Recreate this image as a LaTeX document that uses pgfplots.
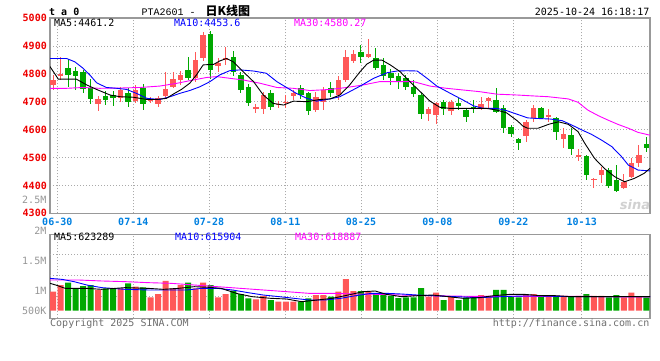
\documentclass[border=0pt]{standalone}
\usepackage{fontspec}
\usepackage{pgfplots}
\usepackage{pgfplotstable}
\pgfplotsset{compat=1.18}
\setmainfont{DejaVu Sans Mono}
\newfontfamily\cour{Liberation Mono}
\newfontfamily\cjk{Noto Sans CJK SC}
\newfontfamily\sinafont{DejaVu Sans}
\definecolor{kred}{RGB}{255,88,88}
\definecolor{kgreen}{RGB}{0,168,0}
\definecolor{tred}{RGB}{238,0,0}
\definecolor{tblue}{RGB}{0,128,224}
\definecolor{framec}{RGB}{153,153,153}
\definecolor{gridc}{RGB}{170,170,170}
\definecolor{ma10}{RGB}{0,0,255}
\definecolor{ma30}{RGB}{255,0,255}
\definecolor{volgray}{RGB}{150,150,150}
\definecolor{foot}{RGB}{110,110,110}

% up (red) candles: index, open, high, low, close, volume (M, drawn scale)
\pgfplotstableread{
i o h l c v
0 4760 4796 4742 4778 0.989
1 4792 4862 4778 4799 1.100
6 4693 4722 4668 4711 1.017
9 4712 4754 4698 4742 1.044
11 4704 4760 4695 4742 1.072
13 4703 4716 4695 4709 0.894
14 4690 4722 4682 4714 0.950
15 4720 4808 4708 4745 1.167
16 4754 4808 4748 4781 1.044
17 4778 4810 4760 4796 1.100
19 4784 4879 4772 4849 1.044
20 4858 4950 4845 4939 1.139
22 4828 4855 4808 4838 0.894
23 4848 4897 4832 4855 0.950
27 4673 4692 4658 4682 0.861
28 4674 4736 4655 4724 0.917
30 4688 4702 4679 4692 0.822
31 4696 4724 4676 4700 0.822
32 4722 4742 4706 4730 0.822
35 4670 4736 4662 4718 0.933
36 4700 4754 4670 4742 0.933
38 4724 4793 4706 4778 0.989
39 4778 4885 4772 4861 1.200
40 4846 4885 4838 4870 1.000
42 4861 4925 4855 4870 1.000
50 4656 4682 4631 4673 0.906
51 4652 4700 4619 4694 0.972
53 4668 4706 4652 4700 0.906
57 4674 4718 4670 4691 0.933
58 4704 4718 4676 4715 0.917
63 4577 4634 4557 4628 0.933
64 4643 4688 4628 4676 0.950
66 4645 4674 4628 4652 0.917
68 4566 4604 4533 4584 0.917
70 4503 4530 4487 4509 0.917
72 4420 4425 4390 4423 0.917
73 4437 4467 4407 4455 0.917
76 4389 4440 4387 4413 0.894
77 4431 4497 4425 4479 0.972
78 4479 4545 4467 4509 0.906
}\upk

% down (green) candles
\pgfplotstableread{
i o h l c v
2 4822 4852 4754 4796 1.139
3 4810 4825 4742 4793 1.044
4 4806 4812 4730 4744 1.083
5 4748 4780 4690 4708 1.100
7 4722 4738 4688 4706 1.044
8 4723 4739 4686 4714 1.044
10 4730 4750 4680 4700 1.128
12 4748 4762 4672 4692 1.061
18 4814 4859 4778 4784 1.139
21 4942 4954 4781 4815 1.100
24 4861 4883 4793 4808 1.005
25 4796 4808 4730 4742 0.950
26 4754 4762 4686 4694 0.877
29 4730 4742 4670 4682 0.850
33 4748 4760 4710 4724 0.822
34 4730 4736 4652 4667 0.878
37 4748 4770 4718 4730 0.906
41 4877 4903 4838 4861 1.000
43 4855 4894 4814 4822 0.950
44 4832 4855 4778 4793 0.950
45 4804 4816 4760 4784 0.917
46 4792 4802 4746 4774 0.883
47 4786 4796 4742 4754 0.894
48 4754 4778 4718 4728 0.894
49 4724 4730 4638 4655 1.050
52 4700 4706 4652 4674 0.850
54 4694 4712 4670 4686 0.850
55 4670 4676 4628 4646 0.889
56 4682 4706 4658 4673 0.883
59 4706 4748 4658 4664 1.017
60 4676 4688 4589 4605 1.017
61 4611 4617 4572 4584 0.906
62 4565 4571 4527 4553 0.894
65 4679 4682 4638 4643 0.906
67 4640 4646 4563 4593 0.906
69 4581 4604 4509 4530 0.906
71 4505 4509 4419 4437 0.950
74 4455 4461 4392 4399 0.894
75 4419 4473 4377 4381 0.933
79 4547 4575 4521 4533 0.894
}\downk

\begin{document}
\begin{tikzpicture}
\useasboundingbox (0,0) rectangle (660pt,360pt);

% ---------------- price panel ----------------
\begin{axis}[
  at={(50pt,146.7pt)}, anchor=south west, scale only axis,
  width=600pt, height=195.3pt,
  xmin=-0.4, xmax=79.49, ymin=4300, ymax=5000,
  axis line style={framec, line width=1.2pt},
  ytick={4300,4400,...,5000},
  xtick={0.57,10.69,20.77,30.93,41.01,51.17,61.29,70.4},
  xticklabels={06-30,07-14,07-28,08-11,08-25,09-08,09-22,10-13},
  grid=major,
  grid style={gridc, line width=0.8pt, dash pattern=on 1pt off 2pt},
  major tick length=0pt,
  /pgf/number format/assume math mode=true,
  /pgf/number format/1000 sep={},
  yticklabel style={text=tred, font=\bfseries, anchor=east, inner sep=0pt, xshift=-3pt},
  xticklabel style={text=tblue, font=\bfseries, anchor=north, inner sep=0pt, yshift=-4.7pt},
]
% wicks
\addplot[draw=none, mark=none, forget plot, error bars/.cd, y dir=both, y explicit, error mark=none,
  error bar style={draw=kred, line width=1pt}]
  table[x=i, y expr=(\thisrow{h}+\thisrow{l})/2, y error expr=(\thisrow{h}-\thisrow{l})/2]{\upk};
\addplot[draw=none, mark=none, forget plot, error bars/.cd, y dir=both, y explicit, error mark=none,
  error bar style={draw=kgreen, line width=1pt}]
  table[x=i, y expr=(\thisrow{h}+\thisrow{l})/2, y error expr=(\thisrow{h}-\thisrow{l})/2]{\downk};
% bodies
\addplot[draw=none, mark=none, forget plot, error bars/.cd, y dir=both, y explicit, error mark=none,
  error bar style={draw=kred, line width=5.5pt}]
  table[x=i, y expr=(\thisrow{o}+\thisrow{c})/2, y error expr={max(abs(\thisrow{c}-\thisrow{o})/2,2.5)}]{\upk};
\addplot[draw=none, mark=none, forget plot, error bars/.cd, y dir=both, y explicit, error mark=none,
  error bar style={draw=kgreen, line width=5.5pt}]
  table[x=i, y expr=(\thisrow{o}+\thisrow{c})/2, y error expr={max(abs(\thisrow{c}-\thisrow{o})/2,2.5)}]{\downk};

% MA30
\addplot[ma30, line width=0.9pt, mark=none] coordinates {
(-0.4,4748)(1.8,4748)(4,4751)(6.2,4748)(8.9,4749)(11.6,4751)(14.2,4756)(16.5,4766)
(18.7,4778)(20.5,4787)(21.8,4790)(23.5,4784)(25.3,4778)(27.6,4766)(29.8,4751)(32,4748)
(34.2,4740)(36.9,4744)(39.1,4751)(41.3,4760)(43.5,4772)(45.8,4772)(48,4772)(50.2,4756)
(52.4,4748)(54.6,4742)(56.8,4736)(59.1,4727)(61.8,4724)(64.4,4720)(65.9,4718)(68.6,4710)
(69.9,4698)(71.2,4670)(72.6,4650)(73.9,4634)(75.2,4619)(76.6,4605)(77.9,4590)(79.49,4580)};
% MA10
\addplot[ma10, line width=0.9pt, mark=none] coordinates {
(-0.4,4855)(1.8,4855)(2.9,4843)(4.0,4820)(4.9,4796)(5.8,4768)(7.1,4751)(8.5,4748)
(9.8,4744)(11.1,4730)(12.5,4712)(14.2,4708)(15.6,4718)(16.9,4730)(18.2,4740)(19.6,4754)
(20.9,4772)(22.2,4796)(23.5,4811)(24.9,4814)(26.7,4810)(28.4,4802)(29.8,4772)(31.1,4751)
(32.4,4730)(33.8,4712)(35.1,4702)(36.9,4710)(38.2,4718)(39.5,4736)(40.9,4756)(42.7,4784)
(44.5,4804)(45.8,4810)(47.1,4811)(48.5,4810)(49.8,4784)(51.1,4756)(52.9,4730)(54.6,4706)
(56,4685)(57.3,4676)(59.1,4676)(60.4,4668)(61.8,4655)(63.2,4642)(64.4,4640)(66.2,4638)
(67.8,4632)(69.1,4616)(70.4,4599)(71.7,4583)(73,4563)(74.4,4539)(75.7,4503)(76.6,4473)
(77.9,4455)(79.49,4452)};
% MA5
\addplot[black, line width=0.9pt, mark=none] coordinates {
(-0.4,4826)(0.7,4781)(3.1,4781)(4.5,4760)(5.8,4744)(7.6,4724)(8.9,4718)(10.7,4716)
(12.5,4708)(13.8,4708)(15.1,4712)(16,4727)(17.1,4744)(18.2,4766)(19.1,4796)(20,4832)
(21.4,4834)(22.2,4846)(23.1,4855)(24,4843)(25.3,4808)(26.7,4772)(28,4724)(29.3,4694)
(30.7,4688)(32,4702)(33.8,4700)(35.5,4708)(36.9,4710)(38.2,4724)(39.5,4760)(40.9,4808)
(41.8,4835)(42.7,4849)(43.8,4849)(44.9,4832)(46.2,4808)(47.5,4772)(48.9,4736)(50.2,4702)
(51.5,4680)(52.9,4676)(54.6,4676)(56.4,4676)(57.7,4676)(59.1,4670)(60.4,4660)(61.8,4632)
(62.6,4612)(63.2,4605)(64.6,4605)(66,4619)(67.3,4628)(68.6,4619)(69.9,4593)(70.8,4551)
(72.1,4497)(73.4,4461)(74.8,4431)(76.1,4413)(77.4,4425)(78.7,4443)(79.49,4461)};
\end{axis}

% ---------------- volume panel ----------------
\begin{axis}[
  at={(50pt,41.7pt)}, anchor=south west, scale only axis,
  width=600pt, height=84pt,
  xmin=-0.4, xmax=79.49, ymin=-0.127, ymax=1.273,
  axis line style={framec, line width=1.2pt},
  xtick={0.57,10.69,20.77,30.93,41.01,51.17,61.29,70.4},
  xticklabels={},
  xmajorgrids, ymajorgrids=false,
  ytick={0,0.328,0.828}, yticklabels={500K,1M,1.5M},
  extra y ticks={0.243,0.586,0.930}, extra y tick labels={},
  extra y tick style={ymajorgrids=true},
  grid style={gridc, line width=0.8pt, dash pattern=on 1pt off 2pt},
  major tick length=0pt,
  yticklabel style={text=volgray, anchor=east, inner sep=0pt, xshift=-3.5pt},
]
\addplot[ybar, bar width=6pt, bar shift=0pt, fill=kred, draw=none, forget plot]
  table[x=i, y expr=\thisrow{v}-0.672]{\upk};
\addplot[ybar, bar width=6pt, bar shift=0pt, fill=kgreen, draw=none, forget plot]
  table[x=i, y expr=\thisrow{v}-0.672]{\downk};
% volume MA30
\addplot[ma30, line width=0.9pt, mark=none] table[x=i, y expr=\thisrow{v}-0.672]{
i v
-0.4 1.183
3.5 1.183
6.5 1.167
9.6 1.156
12.7 1.139
15.7 1.128
18.8 1.100
21.9 1.072
25.0 1.044
28.0 1.017
31.1 0.989
34.1 0.961
37.2 0.961
40.3 0.950
43.4 0.944
46.4 0.933
49.5 0.922
52.6 0.917
55.7 0.911
61.8 0.911
71.0 0.911
76.2 0.900
79.49 0.900
};
% volume MA10
\addplot[ma10, line width=0.9pt, mark=none] table[x=i, y expr=\thisrow{v}-0.672]{
i v
-0.4 1.211
1.2 1.194
2.8 1.156
4.5 1.100
6.5 1.056
9.6 1.028
12.7 1.017
17.8 1.017
19.8 1.044
21.9 1.044
23.9 1.017
26.0 0.972
28.0 0.933
30.1 0.906
32.1 0.878
34.1 0.850
36.2 0.850
38.3 0.878
40.3 0.922
42.4 0.961
44.4 0.961
46.4 0.950
48.5 0.933
50.5 0.922
52.6 0.911
54.6 0.900
56.7 0.889
58.7 0.900
60.8 0.911
62.8 0.917
64.9 0.917
66.9 0.911
69.0 0.906
79.49 0.906
};
% volume MA5
\addplot[black, line width=0.9pt, mark=none] table[x=i, y expr=\thisrow{v}-0.672]{
i v
-0.4 1.128
0.36 1.100
1.64 1.044
4.5 1.044
6.5 1.028
9.6 1.056
12.7 1.044
14.7 1.028
16.7 1.044
18.8 1.072
20.8 1.061
22.4 1.044
24.4 0.961
26.5 0.906
29.0 0.878
31.1 0.867
33.1 0.822
35.2 0.850
37.2 0.878
39.3 0.933
41.3 0.989
42.9 1.000
44.4 0.944
46.4 0.906
48.5 0.922
50.5 0.933
52.6 0.906
54.6 0.878
56.7 0.889
58.7 0.922
60.8 0.944
62.8 0.944
64.9 0.922
66.9 0.922
69.0 0.906
79.49 0.906
};
\end{axis}

% ---------------- texts ----------------
\node[anchor=base west, inner sep=0pt, font=\bfseries] at (49pt,345pt) {t a 0};
\node[anchor=base west, inner sep=0pt] at (141.5pt,345pt)
  {{\cour PTA2601 -}\hspace{10pt}{\cjk\bfseries\fontsize{12}{12}\selectfont 日K线图}};
\node[anchor=base east, inner sep=0pt] at (649.5pt,344.3pt) {2025-10-24 16:18:17};

\node[anchor=base west, inner sep=0pt, text=black] at (54pt,333.3pt) {MA5:4461.2};
\node[anchor=base west, inner sep=0pt, text=ma10] at (174pt,333.3pt) {MA10:4453.6};
\node[anchor=base west, inner sep=0pt, text=ma30] at (294pt,333.3pt) {MA30:4580.27};

\node[anchor=base west, inner sep=0pt, text=black] at (54pt,119.3pt) {MA5:623289};
\node[anchor=base west, inner sep=0pt, text=ma10] at (175pt,119.3pt) {MA10:615904};
\node[anchor=base west, inner sep=0pt, text=ma30] at (295pt,119.3pt) {MA30:618887};

\node[anchor=east, inner sep=0pt, text=volgray] at (46.5pt,129pt) {2M};
\node[anchor=east, inner sep=0pt, text=volgray] at (46.5pt,160pt) {2.5M};

\node[anchor=base west, inner sep=0pt, text=foot] at (50pt,34pt) {Copyright 2025 SINA.COM};
\node[anchor=base east, inner sep=0pt, text=foot] at (649.5pt,34pt) {http://finance.sina.com.cn};

\node[inner sep=0pt, text=black!18, font=\sinafont\bfseries\itshape\fontsize{13}{13}\selectfont] at (635pt,155pt) {sina};
\end{tikzpicture}
\end{document}
